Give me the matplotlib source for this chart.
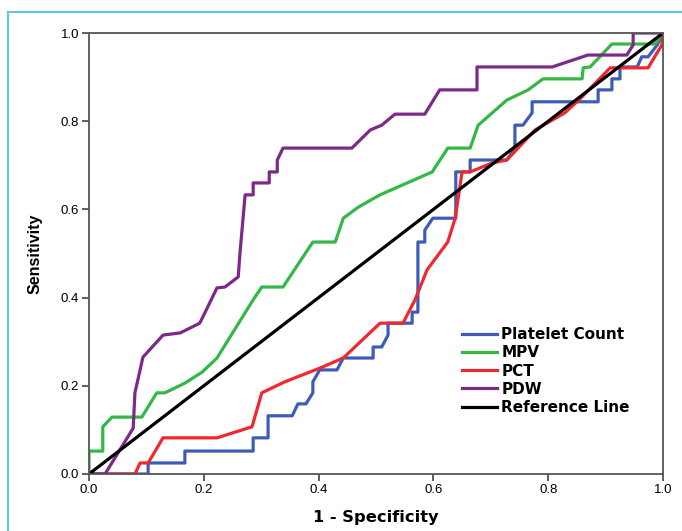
import matplotlib
matplotlib.use("Agg")
import matplotlib.pyplot as plt
from matplotlib.lines import Line2D

plt.rcParams['font.family'] = ['Liberation Sans', 'DejaVu Sans']

# ROC curves (1 - specificity, sensitivity)
plt_x = [0, 0.103, 0.103, 0.167, 0.167, 0.286, 0.286, 0.312, 0.312, 0.354, 0.364, 0.378,
         0.390, 0.390, 0.402, 0.432, 0.443, 0.495, 0.495, 0.510, 0.521, 0.521, 0.563, 0.563,
         0.573, 0.573, 0.585, 0.585, 0.599, 0.639, 0.639, 0.664, 0.664, 0.728, 0.742, 0.742,
         0.756, 0.772, 0.772, 0.887, 0.887, 0.911, 0.911, 0.925, 0.925, 0.955, 0.963, 0.974,
         0.990, 1.0]
plt_y = [0, 0, 0.025, 0.025, 0.052, 0.052, 0.082, 0.082, 0.132, 0.132, 0.159, 0.159,
         0.184, 0.209, 0.236, 0.236, 0.263, 0.263, 0.288, 0.288, 0.315, 0.342, 0.342, 0.367,
         0.367, 0.526, 0.526, 0.553, 0.580, 0.580, 0.685, 0.685, 0.712, 0.712, 0.739, 0.791,
         0.791, 0.819, 0.844, 0.844, 0.871, 0.871, 0.896, 0.896, 0.923, 0.923, 0.946, 0.946,
         0.973, 1.0]

mpv_x = [0, 0, 0.024, 0.024, 0.040, 0.092, 0.118, 0.132, 0.167, 0.197, 0.223, 0.286,
         0.301, 0.338, 0.390, 0.429, 0.443, 0.469, 0.507, 0.598, 0.625, 0.664, 0.678,
         0.728, 0.765, 0.791, 0.859, 0.861, 0.873, 0.911, 0.986, 1.0]
mpv_y = [0, 0.052, 0.052, 0.107, 0.129, 0.129, 0.184, 0.184, 0.206, 0.231, 0.263, 0.395,
         0.424, 0.424, 0.526, 0.526, 0.580, 0.605, 0.633, 0.685, 0.739, 0.739, 0.791,
         0.848, 0.871, 0.896, 0.896, 0.921, 0.923, 0.975, 0.975, 1.0]

pct_x = [0, 0.080, 0.089, 0.103, 0.129, 0.223, 0.284, 0.301, 0.341, 0.402, 0.443, 0.507,
         0.547, 0.568, 0.589, 0.625, 0.638, 0.650, 0.664, 0.702, 0.728, 0.777, 0.829,
         0.855, 0.908, 0.974, 0.998, 1.0]
pct_y = [0, 0, 0.025, 0.025, 0.082, 0.082, 0.107, 0.184, 0.209, 0.240, 0.263, 0.342,
         0.342, 0.395, 0.463, 0.526, 0.580, 0.685, 0.685, 0.705, 0.712, 0.780, 0.819,
         0.850, 0.921, 0.921, 0.973, 1.0]

pdw_x = [0, 0.028, 0.077, 0.080, 0.089, 0.094, 0.129, 0.159, 0.193, 0.223, 0.237, 0.260,
         0.263, 0.272, 0.286, 0.286, 0.314, 0.314, 0.328, 0.328, 0.338, 0.458, 0.490,
         0.510, 0.533, 0.585, 0.611, 0.676, 0.676, 0.807, 0.869, 0.937, 0.948, 0.948, 1.0]
pdw_y = [0, 0, 0.104, 0.184, 0.236, 0.265, 0.315, 0.320, 0.342, 0.422, 0.424, 0.447,
         0.501, 0.633, 0.633, 0.660, 0.660, 0.685, 0.685, 0.712, 0.739, 0.739, 0.780,
         0.791, 0.816, 0.816, 0.871, 0.871, 0.923, 0.923, 0.950, 0.950, 0.973, 1.0, 1.0]

ref_x = [0, 1]
ref_y = [0, 1]

ticks = [0.0, 0.2, 0.4, 0.6, 0.8, 1.0]

fig = plt.figure(figsize=(6.82, 5.31), dpi=100)
ax = fig.add_axes([89 / 682, 1 - 474 / 531, 574 / 682, 441 / 531])

lw = 2.3
ax.plot(plt_x, plt_y, color='#3d5cb8', lw=lw, label='Platelet Count')
ax.plot(mpv_x, mpv_y, color='#33b845', lw=lw, label='MPV')
ax.plot(pct_x, pct_y, color='#f0282e', lw=lw, label='PCT')
ax.plot(pdw_x, pdw_y, color='#7b2a88', lw=lw, label='PDW')
ax.plot(ref_x, ref_y, color='black', lw=lw, label='Reference Line')

ax.set_xlim(0, 1)
ax.set_ylim(0, 1)
ax.set_xticks(ticks)
ax.set_yticks(ticks)
ax.set_xticklabels([f"{t:.1f}" for t in ticks], fontsize=9.5, family=['Liberation Sans'])
ax.set_yticklabels([f"{t:.1f}" for t in ticks], fontsize=9.5, family=['Liberation Sans'])
ax.tick_params(direction='out', length=5, width=1.2, color='#444444', pad=2)
for s in ax.spines.values():
    s.set_color('#555555')
    s.set_linewidth(1.3)

ax.set_xlabel("1 - Specificity", fontsize=11.7, fontweight='bold', labelpad=10,
              family=['DejaVu Sans'])
ax.set_ylabel("Sensitivity", fontsize=11.5, fontweight='bold', labelpad=13,
              family=['Liberation Sans'])

leg = ax.legend(loc='upper left', bbox_to_anchor=(0.649, 0.333), frameon=False,
                prop={'weight': 'bold', 'size': 11, 'family': 'DejaVu Sans'},
                handlelength=2.3, handletextpad=0.3, labelspacing=0.21,
                borderpad=0, borderaxespad=0)

# light blue frame of the source figure (left and top edges only)
fig.add_artist(Line2D([7.5 / 682, 7.5 / 682], [0, 1 - 12 / 531], transform=fig.transFigure,
                      color='#5cc8e6', lw=1.5))
fig.add_artist(Line2D([7.5 / 682, 1], [1 - 12 / 531, 1 - 12 / 531], transform=fig.transFigure,
                      color='#5cc8e6', lw=1.5))

fig.savefig("out.png", dpi=100)
